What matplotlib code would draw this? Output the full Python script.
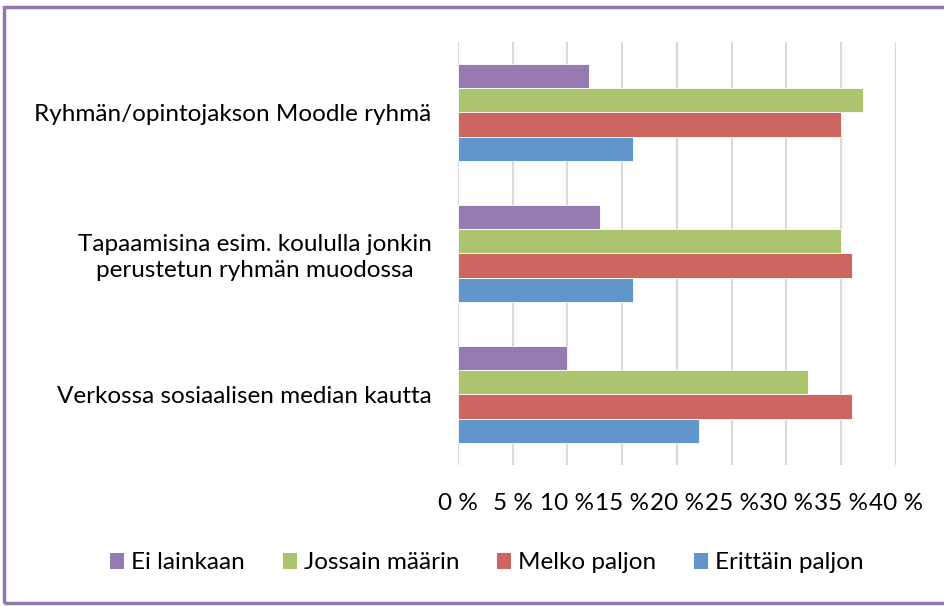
import numpy as np
import matplotlib.pyplot as plt
from matplotlib.patches import Rectangle, Patch

plt.rcParams['font.family'] = ['Lato', 'DejaVu Sans']

# Kategoriat (ylhäältä alas)
categories = [
    'Ryhmän/opintojakson Moodle ryhmä',
    'Tapaamisina esim. koululla jonkin\nperustetun ryhmän muodossa',
    'Verkossa sosiaalisen median kautta',
]
series_names = ['Ei lainkaan', 'Jossain määrin', 'Melko paljon', 'Erittäin paljon']
ei_lainkaan = [12, 13, 10]
jossain_maarin = [37, 35, 32]
melko_paljon = [35, 36, 36]
erittain_paljon = [16, 16, 22]
xticks = [0, 5, 10, 15, 20, 25, 30, 35, 40]

colors = ['#957BB1', '#ABC46D', '#CD665E', '#6096C9']
values = [ei_lainkaan, jossain_maarin, melko_paljon, erittain_paljon]

fig = plt.figure(figsize=(9.44, 6.06), dpi=100)
ax = fig.add_axes([0.485, 0.233, 0.464, 0.698])

y = np.arange(len(categories))
h = 0.172
for i, (vals, col) in enumerate(zip(values, colors)):
    off = (i - 1.5) * h
    ax.barh(y + off, vals, height=h, color=col, edgecolor='white',
            linewidth=0.6, zorder=3)

fs = 17.5
ax.set_ylim(2.5, -0.5)
ax.set_xlim(0, 40)
ax.set_xticks(xticks)
ax.set_xticklabels([f'{t} %' for t in xticks], fontsize=fs)
ax.set_yticks(y)
ax.set_yticklabels(categories, fontsize=fs, ha='right', multialignment='center',
                   linespacing=1.25)
ax.tick_params(axis='x', length=0, pad=20)
ax.tick_params(axis='y', length=0, pad=19)
ax.grid(axis='x', color='#D9D9D9', linewidth=1.5, zorder=0)
for s in ax.spines.values():
    s.set_visible(False)

handles = [Patch(facecolor=c, edgecolor='none') for c in colors]
fig.legend(handles, series_names, loc='center', bbox_to_anchor=(0.516, 0.071),
           ncol=4, frameon=False, fontsize=fs, handlelength=0.57,
           handleheight=0.6, handletextpad=0.3, columnspacing=1.55)

# purppura kehys
fig.patches.append(Rectangle((4 / 944, 3 / 606), 1.2, 596 / 606,
                             transform=fig.transFigure, fill=False,
                             edgecolor='#9178AE', linewidth=2.5))

fig.savefig('out.png', dpi=100, facecolor='white')
